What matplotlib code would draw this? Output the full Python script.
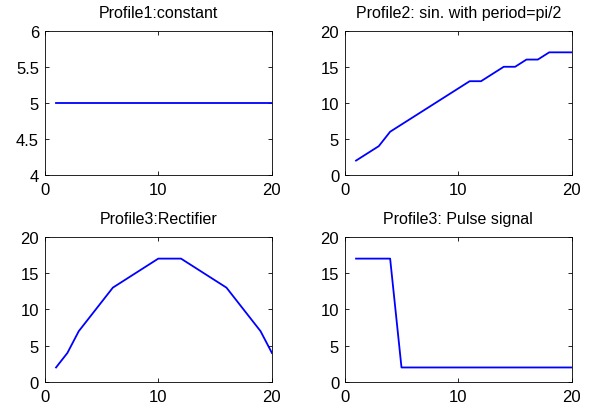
import numpy as np
import matplotlib
matplotlib.use('Agg')
import matplotlib.pyplot as plt

plt.rcParams['font.family'] = ['Liberation Sans', 'DejaVu Sans']

x = np.arange(1, 21)
constant = [5] * 20
sine = [2, 3, 4, 6, 7, 8, 9, 10, 11, 12, 13, 13, 14, 15, 15, 16, 16, 17, 17, 17]
rectifier = [2, 4, 7, 9, 11, 13, 14, 15, 16, 17, 17, 17, 16, 15, 14, 13, 11, 9, 7, 4]
pulse = [17, 17, 17, 17] + [2] * 16

titles = ['Profile1:constant', 'Profile2: sin. with period=pi/2',
          'Profile3:Rectifier', 'Profile3: Pulse signal']
series = [constant, sine, rectifier, pulse]
ylims = [(4, 6), (0, 20), (0, 20), (0, 20)]
yticks = [[4, 4.5, 5, 5.5, 6], [0, 5, 10, 15, 20], [0, 5, 10, 15, 20], [0, 5, 10, 15, 20]]
yticklabels = [['4', '4.5', '5', '5.5', '6'], None, None, None]

fig = plt.figure(figsize=(5.98, 4.10), dpi=100)
positions = [
    [0.0747, 0.5707, 0.380, 0.352],
    [0.5764, 0.5707, 0.380, 0.352],
    [0.0747, 0.0659, 0.380, 0.354],
    [0.5764, 0.0659, 0.380, 0.354],
]

for pos, y, title, yl, yt, ytl in zip(positions, series, titles, ylims, yticks, yticklabels):
    ax = fig.add_axes(pos)
    ax.plot(x, y, color='blue', linewidth=1.3)
    ax.set_xlim(0, 20)
    ax.set_ylim(*yl)
    ax.set_xticks([0, 10, 20])
    ax.set_yticks(yt)
    if ytl:
        ax.set_yticklabels(ytl)
    ax.tick_params(direction='in', top=True, right=True, length=3,
                   width=0.6, labelsize=12)
    ax.tick_params(axis='x', pad=5)
    ax.tick_params(axis='y', pad=4)
    for s in ax.spines.values():
        s.set_linewidth(0.6)
    ax.set_title(title, fontsize=11.5, pad=10)

fig.savefig('out.png', dpi=100)
